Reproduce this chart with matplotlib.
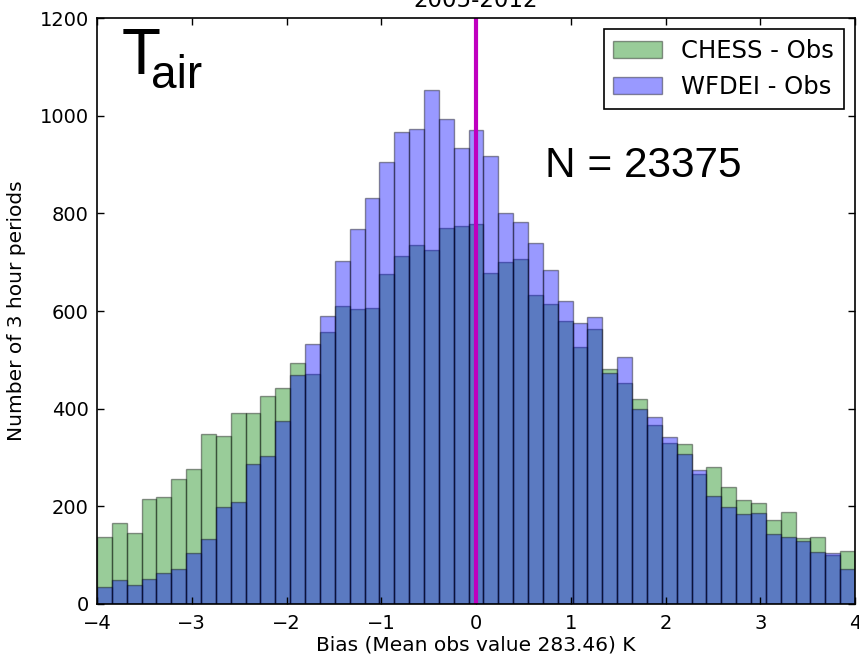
import numpy as np
import matplotlib
matplotlib.use("Agg")
import matplotlib.pyplot as plt

# Bias histogram bins: 51 equal bins spanning -4 K .. 4 K
bin_edges = np.linspace(-4, 4, 52)
bin_centres = 0.5 * (bin_edges[:-1] + bin_edges[1:])

# Counts of 3-hourly periods per bias bin
chess_counts = [138, 165, 145, 214, 219, 255, 276, 349, 344, 392,
                392, 427, 442, 494, 472, 558, 610, 605, 607, 675,
                713, 735, 725, 770, 775, 778, 679, 700, 707, 634,
                614, 579, 527, 563, 481, 452, 419, 366, 329, 328,
                266, 281, 240, 213, 206, 171, 188, 136, 138, 101,
                108]
wfdei_counts = [34, 48, 39, 51, 64, 71, 104, 133, 199, 208,
                286, 304, 374, 469, 532, 590, 702, 768, 831, 906,
                966, 973, 1053, 993, 935, 971, 918, 802, 782, 740,
                684, 620, 576, 587, 474, 505, 399, 384, 341, 308,
                274, 221, 199, 184, 186, 143, 138, 129, 107, 104,
                71]

x_ticks = [-4, -3, -2, -1, 0, 1, 2, 3, 4]
y_ticks = [0, 200, 400, 600, 800, 1000, 1200]

W, H = 859, 663
fig = plt.figure(figsize=(W / 100, H / 100), dpi=100)
ax = fig.add_axes([97 / W, 1 - 603.9 / H, (855 - 97) / W, (603.9 - 18.3) / H])

ax.hist(bin_centres, bins=bin_edges, weights=chess_counts, color=(0, 0.5, 0),
        alpha=0.4, edgecolor="k", linewidth=1.0, label="CHESS - Obs")
ax.hist(bin_centres, bins=bin_edges, weights=wfdei_counts, color=(0, 0, 1),
        alpha=0.4, edgecolor="k", linewidth=1.0, label="WFDEI - Obs")
ax.axvline(0, color=(0.75, 0, 0.75), linewidth=3)

ax.set_xlim(-4, 4)
ax.set_ylim(0, 1200)
ax.set_xticks(x_ticks)
ax.set_yticks(y_ticks)
ax.tick_params(direction="in", top=True, right=True, length=5, width=1,
               labelsize=14)
ax.tick_params(axis="x", pad=7)
ax.tick_params(axis="y", pad=6)
for s in ax.spines.values():
    s.set_linewidth(1.2)

ax.set_xlabel("Bias (Mean obs value 283.46) K", fontsize=14.5, labelpad=2)
ax.set_ylabel("Number of 3 hour periods", fontsize=14.5, labelpad=10)
ax.set_title("2005-2012", fontsize=16.5, pad=8)

leg = ax.legend(loc="upper right", fontsize=17.5, fancybox=False,
                handlelength=2.0, handletextpad=0.8, borderaxespad=0.45,
                labelspacing=0.5, borderpad=0.4, framealpha=1)
leg.get_frame().set_edgecolor("k")
leg.get_frame().set_linewidth(1.2)

fig.text(122 / W, 1 - 74 / H, "T", fontsize=46, family="Liberation Sans",
         va="baseline", ha="left")
fig.text(151 / W, 1 - 88 / H, "air", fontsize=33, family="Liberation Sans",
         va="baseline", ha="left")
fig.text(545 / W, 1 - 177.3 / H, "N = 23375", fontsize=30.5,
         family="Liberation Sans", va="baseline", ha="left")

fig.savefig("out.png", dpi=100, facecolor="white")
